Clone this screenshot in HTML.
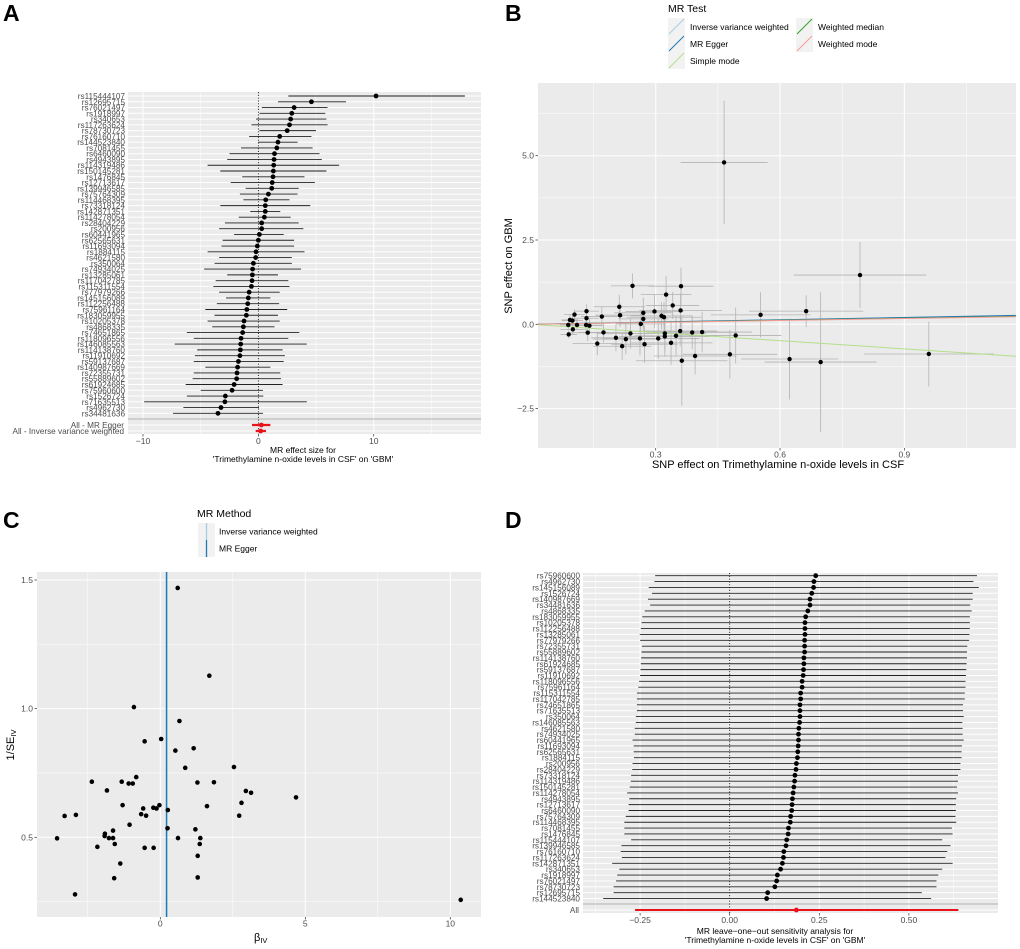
<!DOCTYPE html>
<html><head><meta charset="utf-8"><style>
html,body{margin:0;padding:0;background:#fff}
svg{display:block;font-family:"Liberation Sans",sans-serif}
</style></head><body>
<svg id="fig" xmlns="http://www.w3.org/2000/svg" width="1020" height="949" viewBox="0 0 1020 949">
<text x="3" y="21" font-size="23" font-weight="bold">A</text>
<text x="505" y="21" font-size="23" font-weight="bold">B</text>
<text x="3" y="528" font-size="23" font-weight="bold">C</text>
<text x="505" y="528" font-size="23" font-weight="bold">D</text>
</svg>
<script>
// ---------- Panel A data ----------
const aSnps=["rs115444107","rs12695715","rs76021497","rs1918997","rs340653","rs117263624","rs78730723","rs76160710","rs144523840","rs7081455","rs6460090","rs4943895","rs114319486","rs150145281","rs1476845","rs12713617","rs139946585","rs75764309","rs114468395","rs73318124","rs142871351","rs114278054","rs28404229","rs200956","rs60441965","rs62565631","rs11693094","rs1884115","rs4621580","rs350064","rs74934025","rs13285061","rs117042785","rs115311554","rs77979266","rs145156089","rs112256488","rs75961164","rs183059955","rs10205378","rs4868335","rs74651865","rs118096556","rs146085563","rs114138760","rs11910692","rs59137687","rs140987669","rs72355731","rs55889602","rs61924685","rs75960600","rs1526724","rs71635513","rs4962730","rs34481636"];
const aEst=[10.2,4.6,3.1,2.9,2.8,2.7,2.5,1.85,1.7,1.6,1.4,1.36,1.33,1.3,1.27,1.2,1.16,0.87,0.64,0.6,0.6,0.52,0.29,0.29,0.09,0,-0.09,-0.2,-0.23,-0.43,-0.5,-0.52,-0.55,-0.6,-0.8,-0.87,-0.92,-1.0,-1.04,-1.24,-1.3,-1.36,-1.5,-1.53,-1.56,-1.6,-1.73,-1.8,-1.85,-1.88,-2.1,-2.28,-2.86,-2.9,-3.24,-3.5];
const aLo=[2.6,1.7,0.3,0.1,-0.2,-0.6,0.1,-0.8,0,-1.5,-2.5,-2.7,-4.4,-3.3,-1.4,-2.4,-1.1,-1.6,-1.3,-3.3,-0.7,-1.7,-2.9,-3.4,-2.1,-3.1,-3.2,-4.4,-3.4,-3.8,-4.7,-2.7,-3.7,-3.9,-3.4,-2.8,-3.6,-4.6,-3.8,-4.4,-4.0,-6.2,-5.6,-7.25,-5.3,-5.5,-5.6,-4.6,-5.6,-5.7,-6.3,-5.0,-6.2,-9.9,-6.5,-7.4];
const aHi=[17.9,7.6,6.0,5.8,5.9,6.0,5.0,4.6,3.4,4.7,5.3,5.5,7.0,5.9,4.0,4.9,3.5,3.4,2.7,4.5,1.9,2.8,3.5,3.9,2.2,3.1,3.1,4.0,2.9,2.9,3.7,1.7,2.6,2.7,1.85,1.04,1.8,2.5,1.7,1.85,1.4,3.55,2.6,4.2,2.1,2.3,2.2,1.04,1.9,1.96,2.1,0.4,0.43,4.2,0.06,0.4];
const aSumLabels=["All - MR Egger","All - Inverse variance weighted"];
const aSumEst=[0.26,0.2];
const aSumLo=[-0.55,-0.23];
const aSumHi=[1.04,0.66];
const aTicks=[-10,0,10];
// ---------- Panel B data ----------
const bX=[0.465,0.793,0.959,0.698,0.623,0.663,0.553,0.493,0.479,0.361,0.244,0.325,0.341,0.36,0.297,0.314,0.32,0.27,0.27,0.264,0.212,0.214,0.17,0.133,0.133,0.104,0.093,0.099,0.089,0.11,0.132,0.14,0.09,0.1,0.136,0.174,0.159,0.204,0.219,0.228,0.239,0.262,0.273,0.306,0.322,0.322,0.337,0.349,0.359,0.388,0.412,0.395,0.363];
const bY=[4.8,1.46,-0.88,-1.12,-1.03,0.39,0.28,-0.33,-0.89,1.13,1.14,0.88,0.56,0.41,0.38,0.25,0.21,0.34,0.16,0.01,0.52,0.27,0.23,0.39,0.18,0.29,0.13,0.11,-0.02,-0.02,-0.02,-0.04,-0.3,-0.15,-0.25,-0.24,-0.57,-0.4,-0.65,-0.44,-0.27,-0.42,-0.59,-0.42,-0.27,-0.36,-0.55,-0.34,-0.2,-0.24,-0.23,-0.94,-1.08];
const bXse=[0.105,0.16,0.157,0.135,0.117,0.138,0.12,0.11,0.114,0.078,0.052,0.061,0.064,0.1,0.07,0.075,0.09,0.07,0.06,0.06,0.062,0.06,0.05,0.03,0.03,0.025,0.02,0.025,0.02,0.03,0.04,0.03,0.02,0.03,0.05,0.06,0.06,0.06,0.07,0.08,0.08,0.09,0.08,0.1,0.1,0.11,0.1,0.1,0.09,0.11,0.12,0.1,0.11];
const bYse=[1.83,0.98,0.96,2.07,1.2,0.47,0.67,0.83,0.72,0.55,0.37,0.55,0.4,0.5,0.5,0.4,0.45,0.45,0.4,0.35,0.35,0.35,0.3,0.2,0.2,0.15,0.15,0.15,0.12,0.15,0.2,0.2,0.12,0.15,0.25,0.3,0.35,0.4,0.4,0.45,0.45,0.5,0.55,0.6,0.55,0.6,0.65,0.6,0.45,0.5,0.6,0.55,1.33];
const bMethods=["Inverse variance weighted","MR Egger","Simple mode","Weighted median","Weighted mode"];
const bSlopes=[0.22,0.225,-0.81,0.2,0.19];
const bColors=["#a6cee3","#1f78b4","#b2df8a","#33a02c","#fb9a99"];
const bXTicks=[0.3,0.6,0.9];
const bYTicks=[-2.5,0,2.5,5];
// ---------- Panel C data ----------
const cBeta=[0.6,1.69,-0.91,0.66,0.03,-0.54,0.52,1.15,0.86,2.54,-0.83,-2.36,-1.33,-1.09,-0.95,1.28,1.85,-1.84,2.95,3.13,4.68,2.8,-1.3,-0.03,-0.24,-0.59,-0.13,1.61,0.26,-0.66,-0.49,2.72,-2.91,-3.3,-1.06,0.25,1.21,-1.63,-1.91,-1.92,-1.77,-1.63,-3.56,0.61,1.38,-1.57,1.36,-2.17,-0.54,-0.23,1.29,-1.38,-1.59,1.29,-2.94,10.36];
const cInvSe=[1.469,1.128,1.006,0.952,0.882,0.873,0.837,0.846,0.77,0.773,0.734,0.716,0.716,0.709,0.709,0.713,0.714,0.682,0.68,0.673,0.655,0.634,0.625,0.625,0.615,0.612,0.612,0.621,0.606,0.59,0.584,0.584,0.587,0.583,0.549,0.535,0.531,0.526,0.514,0.505,0.497,0.497,0.496,0.497,0.497,0.474,0.474,0.463,0.459,0.459,0.428,0.398,0.341,0.344,0.278,0.257];
const cMethods=["Inverse variance weighted","MR Egger"];
const cEst=[0.195,0.22];
const cColors=["#a6cee3","#1f78b4"];
const cXTicks=[0,5,10];
const cYTicks=[0.5,1.0,1.5];
// ---------- Panel D data ----------
const dSnps=["rs75960600","rs4962730","rs145156089","rs1526724","rs140987669","rs34481636","rs4868335","rs183059955","rs10205378","rs112256488","rs13285061","rs77979266","rs72355731","rs55889602","rs114138760","rs61924685","rs59137687","rs11910692","rs118096556","rs75961164","rs115311554","rs117042785","rs74651865","rs71635513","rs350064","rs146085563","rs4621580","rs74934025","rs60441965","rs11693094","rs62565631","rs1884115","rs200956","rs28404229","rs73318124","rs114319486","rs150145281","rs114278054","rs4943895","rs12713617","rs6460090","rs75764309","rs114468395","rs7081455","rs1476845","rs115444107","rs139946585","rs76160710","rs117263624","rs142871351","rs340653","rs1918997","rs76021497","rs78730723","rs12695715","rs144523840"];
const dEst=[0.240,0.235,0.234,0.229,0.224,0.224,0.218,0.212,0.210,0.210,0.210,0.209,0.209,0.209,0.207,0.207,0.206,0.205,0.202,0.202,0.198,0.198,0.196,0.196,0.196,0.195,0.193,0.192,0.192,0.191,0.190,0.189,0.186,0.185,0.182,0.181,0.179,0.177,0.175,0.174,0.173,0.170,0.169,0.164,0.163,0.159,0.157,0.151,0.150,0.147,0.142,0.133,0.131,0.126,0.106,0.103];
const dLo=[-0.208,-0.210,-0.226,-0.217,-0.228,-0.222,-0.237,-0.244,-0.246,-0.248,-0.251,-0.250,-0.245,-0.246,-0.247,-0.248,-0.249,-0.250,-0.253,-0.255,-0.259,-0.259,-0.259,-0.259,-0.262,-0.262,-0.265,-0.265,-0.271,-0.268,-0.268,-0.267,-0.271,-0.272,-0.275,-0.276,-0.279,-0.286,-0.280,-0.282,-0.282,-0.290,-0.294,-0.294,-0.294,-0.275,-0.302,-0.304,-0.301,-0.328,-0.308,-0.314,-0.317,-0.324,-0.324,-0.353];
const dHi=[0.690,0.680,0.695,0.678,0.678,0.671,0.675,0.670,0.670,0.670,0.669,0.668,0.663,0.662,0.662,0.661,0.660,0.659,0.658,0.658,0.656,0.656,0.651,0.651,0.653,0.649,0.650,0.650,0.653,0.648,0.647,0.647,0.644,0.644,0.637,0.637,0.634,0.637,0.632,0.631,0.631,0.630,0.632,0.620,0.622,0.593,0.616,0.607,0.602,0.622,0.593,0.582,0.577,0.577,0.536,0.562];
const dAllEst=[0.186];
const dAllLo=[-0.264];
const dAllHi=[0.638];
const dTicks=[-0.25,0,0.25,0.5];
const dTickLabels=["-0.25","0.00","0.25","0.50"];

const NS="http://www.w3.org/2000/svg";
const svg=document.getElementById('fig');
function mk(tag,attrs,parent){const e=document.createElementNS(NS,tag);for(const k in attrs)e.setAttribute(k,attrs[k]);(parent||svg).appendChild(e);return e;}
function lin(d0,d1,r0,r1){return v=>r0+(v-d0)*(r1-r0)/(d1-d0);}
const TXT="#4d4d4d";

// ================= PANEL A =================
(function(){
  const L=128,R=481,T=92,B=434;
  const x=lin(-11.3,19.3,L,R);
  const y0=96,step=5.77;
  const g=mk('g',{});
  
  
  const bg=mk('rect',{x:L,y:T,width:R-L,height:B-T,fill:'#ebebeb'},g);
  
  
  [-5,5,15].forEach(v=>{const l=mk('line',{x1:x(v),x2:x(v),y1:T,y2:B,stroke:'#fff','stroke-width':0.5},g);
    
    });
  aTicks.forEach(v=>{const l=mk('line',{x1:x(v),x2:x(v),y1:T,y2:B,stroke:'#fff','stroke-width':1},g);
    
    });
  aSnps.forEach((s,i)=>{const yy=y0+i*step;
    const gl=mk('line',{x1:L,x2:R,y1:yy,y2:yy,stroke:'#fff','stroke-width':1},g);
    
    });
  const sepY=419;
  const sep=mk('line',{x1:L,x2:R,y1:sepY,y2:sepY,stroke:'#b0b0b0','stroke-width':1},g);
  
  
  const zl=mk('line',{x1:x(0),x2:x(0),y1:T,y2:B,stroke:'#000','stroke-width':0.8,'stroke-dasharray':'1.2,1.6'},g);
  
  
  aSnps.forEach((s,i)=>{const yy=y0+i*step;
    const ci=mk('line',{x1:x(aLo[i]),x2:x(aHi[i]),y1:yy,y2:yy,stroke:'#222','stroke-width':0.9},g);
    
    
    const p=mk('circle',{cx:x(aEst[i]),cy:yy,r:2.4,fill:'#000'},g);
    
    
    const t=mk('text',{x:L-3,y:yy+3,'font-size':8.2,fill:TXT,'text-anchor':'end'},g);t.textContent=s;
    
    });
  const sy=[425,431];
  aSumLabels.forEach((s,i)=>{
    const gl=mk('line',{x1:L,x2:R,y1:sy[i],y2:sy[i],stroke:'#fff','stroke-width':1},g);
    
    
    const ci=mk('line',{x1:x(aSumLo[i]),x2:x(aSumHi[i]),y1:sy[i],y2:sy[i],stroke:'#e8141c','stroke-width':2.2},g);
    
    
    const p=mk('circle',{cx:x(aSumEst[i]),cy:sy[i],r:2.4,fill:'#e8141c'},g);
    
    
    const t=mk('text',{x:L-4,y:sy[i]+3,'font-size':8.2,fill:TXT,'text-anchor':'end'},g);t.textContent=s;
    
    });
  aTicks.forEach(v=>{const tk=mk('line',{x1:x(v),x2:x(v),y1:B,y2:B+2.5,stroke:'#333','stroke-width':0.7},g);
    
    
    const t=mk('text',{x:x(v),y:B+10,'font-size':8.5,fill:TXT,'text-anchor':'middle'},g);t.textContent=(v<0?'\u2212':'')+Math.abs(v);
    
    });
  const t1=mk('text',{x:303,y:453,'font-size':8.5,fill:'#000','text-anchor':'middle'},g);t1.textContent='MR effect size for';
  
  
  const t2=mk('text',{x:303,y:462,'font-size':8.5,fill:'#000','text-anchor':'middle'},g);t2.textContent="'Trimethylamine n-oxide levels in CSF' on 'GBM'";
  
  
})();

// ================= PANEL B =================
(function(){
  const L=538,R=1016,T=83,B=448;
  const x=lin(0,1,531.4,945.8), y=lin(0,5,324.3,155.7);
  const xmin=0.016,xmax=1.169;
  const g=mk('g',{});
  
  
  const bg=mk('rect',{x:L,y:T,width:R-L,height:B-T,fill:'#ebebeb'},g);
  
  
  [0.15,0.45,0.75,1.05].forEach(v=>{const l=mk('line',{x1:x(v),x2:x(v),y1:T,y2:B,stroke:'#fff','stroke-width':0.5},g);
    
    });
  [-1.25,1.25,3.75,6.25].forEach(v=>{const l=mk('line',{x1:L,x2:R,y1:y(v),y2:y(v),stroke:'#fff','stroke-width':0.5},g);
    
    });
  bXTicks.forEach(v=>{const l=mk('line',{x1:x(v),x2:x(v),y1:T,y2:B,stroke:'#fff','stroke-width':1},g);
    
    });
  bYTicks.forEach(v=>{const l=mk('line',{x1:L,x2:R,y1:y(v),y2:y(v),stroke:'#fff','stroke-width':1},g);
    
    });
  bX.forEach((xv,i)=>{
    const h=mk('line',{x1:x(xv-bXse[i]),x2:x(xv+bXse[i]),y1:y(bY[i]),y2:y(bY[i]),stroke:'#b3b3b3','stroke-width':0.8},g);
    
    
    const v=mk('line',{x1:x(xv),x2:x(xv),y1:y(bY[i]-bYse[i]),y2:y(bY[i]+bYse[i]),stroke:'#b3b3b3','stroke-width':0.8},g);
    
    });
  bMethods.forEach((m,i)=>{
    const l=mk('line',{x1:x(xmin),x2:x(xmax),y1:y(bSlopes[i]*xmin),y2:y(bSlopes[i]*xmax),stroke:bColors[i],'stroke-width':1},g);
    
    });
  bX.forEach((xv,i)=>{const p=mk('circle',{cx:x(xv),cy:y(bY[i]),r:2.2,fill:'#000'},g);
    
    });
  bXTicks.forEach(v=>{const tk=mk('line',{x1:x(v),x2:x(v),y1:B,y2:B+2.5,stroke:'#333','stroke-width':0.7},g);
    
    
    const t=mk('text',{x:x(v),y:B+9.5,'font-size':8.5,fill:TXT,'text-anchor':'middle'},g);t.textContent=v.toFixed(1);
    
    });
  bYTicks.forEach(v=>{const tk=mk('line',{x1:L-2.5,x2:L,y1:y(v),y2:y(v),stroke:'#333','stroke-width':0.7},g);
    
    
    const t=mk('text',{x:L-4,y:y(v)+3,'font-size':8.5,fill:TXT,'text-anchor':'end'},g);t.textContent=(v<0?'\u2212':'')+Math.abs(v).toFixed(1);
    
    });
  const xt=mk('text',{x:778,y:468,'font-size':11,fill:'#000','text-anchor':'middle'},g);xt.textContent='SNP effect on Trimethylamine n-oxide levels in CSF';
  
  
  const yt=mk('text',{x:0,y:0,'font-size':11,fill:'#000','text-anchor':'middle',transform:'translate(512,266) rotate(-90)'},g);yt.textContent='SNP effect on GBM';
  
  
  const lt=mk('text',{x:668,y:12,'font-size':10.5,fill:'#000'},g);lt.textContent='MR Test';
  
  
  const pos=[[668,18],[668,35],[668,52],[796,18],[796,35]];
  bMethods.forEach((m,i)=>{const[px,py]=pos[i];
    const k=mk('rect',{x:px,y:py,width:17,height:17,fill:'#f2f2f2'},g);
    
    
    const kl=mk('line',{x1:px+1,y1:py+16,x2:px+16,y2:py+1,stroke:bColors[i],'stroke-width':1},g);
    
    
    const t=mk('text',{x:px+22,y:py+12,'font-size':8.5,fill:'#000'},g);t.textContent=m;
    
    });
})();

// ================= PANEL C =================
(function(){
  const L=37,R=481,T=572,B=917;
  const x=lin(0,5,160.3,305.3), y=lin(0.5,1.5,837.3,580);
  const g=mk('g',{});
  
  
  const bg=mk('rect',{x:L,y:T,width:R-L,height:B-T,fill:'#ebebeb'},g);
  
  
  [-2.5,2.5,7.5].forEach(v=>{const l=mk('line',{x1:x(v),x2:x(v),y1:T,y2:B,stroke:'#fff','stroke-width':0.5},g);
    
    });
  [0.25,0.75,1.25].forEach(v=>{const l=mk('line',{x1:L,x2:R,y1:y(v),y2:y(v),stroke:'#fff','stroke-width':0.5},g);
    
    });
  cXTicks.forEach(v=>{const l=mk('line',{x1:x(v),x2:x(v),y1:T,y2:B,stroke:'#fff','stroke-width':1},g);
    
    });
  cYTicks.forEach(v=>{const l=mk('line',{x1:L,x2:R,y1:y(v),y2:y(v),stroke:'#fff','stroke-width':1},g);
    
    });
  cMethods.forEach((m,i)=>{const l=mk('line',{x1:x(cEst[i]),x2:x(cEst[i]),y1:T,y2:B,stroke:cColors[i],'stroke-width':1.3},g);
    
    });
  cBeta.forEach((b,i)=>{const p=mk('circle',{cx:x(b),cy:y(cInvSe[i]),r:2.3,fill:'#000'},g);
    
    });
  cXTicks.forEach(v=>{const tk=mk('line',{x1:x(v),x2:x(v),y1:B,y2:B+2.5,stroke:'#333','stroke-width':0.7},g);
    
    
    const t=mk('text',{x:x(v),y:B+9.5,'font-size':8.5,fill:TXT,'text-anchor':'middle'},g);t.textContent=v;
    
    });
  cYTicks.forEach(v=>{const tk=mk('line',{x1:L-2.5,x2:L,y1:y(v),y2:y(v),stroke:'#333','stroke-width':0.7},g);
    
    
    const t=mk('text',{x:L-4,y:y(v)+3,'font-size':8.5,fill:TXT,'text-anchor':'end'},g);t.textContent=v.toFixed(1);
    
    });
  const xt=mk('text',{x:254,y:941,'font-size':11,fill:'#000'},g);xt.innerHTML='\u03b2<tspan font-size="7.5" dy="2">IV</tspan>';
  
  
  const yt=mk('text',{x:0,y:0,'font-size':11,fill:'#000','text-anchor':'middle',transform:'translate(14,745) rotate(-90)'},g);yt.innerHTML='1/SE<tspan font-size="7.5" dy="2">IV</tspan>';
  
  
  const lt=mk('text',{x:197,y:517,'font-size':10.5,fill:'#000'},g);lt.textContent='MR Method';
  
  
  cMethods.forEach((m,i)=>{const py=523+i*17;
    const k=mk('rect',{x:198,y:py,width:17,height:17,fill:'#f2f2f2'},g);
    
    
    const kl=mk('line',{x1:206.5,x2:206.5,y1:py,y2:py+17,stroke:cColors[i],'stroke-width':1.3},g);
    
    
    const t=mk('text',{x:219,y:py+11.5,'font-size':8.5,fill:'#000'},g);t.textContent=m;
    
    });
})();

// ================= PANEL D =================
(function(){
  const L=583,R=998,T=573,B=913;
  const x=lin(0,0.25,729.7,819.3);
  const y0=575.7,step=5.87;
  const g=mk('g',{});
  
  
  const bg=mk('rect',{x:L,y:T,width:R-L,height:B-T,fill:'#ebebeb'},g);
  
  
  [-0.375,-0.125,0.125,0.375,0.625].forEach(v=>{const l=mk('line',{x1:x(v),x2:x(v),y1:T,y2:B,stroke:'#fff','stroke-width':0.5},g);
    
    });
  dTicks.forEach(v=>{const l=mk('line',{x1:x(v),x2:x(v),y1:T,y2:B,stroke:'#fff','stroke-width':1},g);
    
    });
  dSnps.forEach((s,i)=>{const yy=y0+i*step;
    const gl=mk('line',{x1:L,x2:R,y1:yy,y2:yy,stroke:'#fff','stroke-width':1},g);
    
    });
  const sep=mk('line',{x1:L,x2:R,y1:904,y2:904,stroke:'#b0b0b0','stroke-width':1},g);
  
  
  const zl=mk('line',{x1:x(0),x2:x(0),y1:T,y2:B,stroke:'#000','stroke-width':0.8,'stroke-dasharray':'1.2,1.6'},g);
  
  
  dSnps.forEach((s,i)=>{const yy=y0+i*step;
    const ci=mk('line',{x1:x(dLo[i]),x2:x(dHi[i]),y1:yy,y2:yy,stroke:'#222','stroke-width':0.9},g);
    
    
    const p=mk('circle',{cx:x(dEst[i]),cy:yy,r:2.4,fill:'#000'},g);
    
    
    const t=mk('text',{x:L-3,y:yy+3,'font-size':8.2,fill:TXT,'text-anchor':'end'},g);t.textContent=s;
    
    });
  const ay=910;
  const agl=mk('line',{x1:L,x2:R,y1:ay,y2:ay,stroke:'#fff','stroke-width':1},g);
  
  
  const aci=mk('line',{x1:x(dAllLo[0]),x2:x(dAllHi[0]),y1:ay,y2:ay,stroke:'#e8141c','stroke-width':2},g);
  
  
  const ap=mk('circle',{cx:x(dAllEst[0]),cy:ay,r:2.4,fill:'#e8141c'},g);
  
  
  const at=mk('text',{x:L-4,y:ay+3,'font-size':8.2,fill:TXT,'text-anchor':'end'},g);at.textContent='All';
  
  
  dTicks.forEach((v,i)=>{const tk=mk('line',{x1:x(v),x2:x(v),y1:B,y2:B+2.5,stroke:'#333','stroke-width':0.7},g);
    
    
    const t=mk('text',{x:x(v),y:B+10,'font-size':8.5,fill:TXT,'text-anchor':'middle'},g);t.textContent=dTickLabels[i].replace('-','\u2212');
    
    });
  const t1=mk('text',{x:775,y:934,'font-size':8.5,fill:'#000','text-anchor':'middle'},g);t1.textContent='MR leave\u2212one\u2212out sensitivity analysis for';
  
  
  const t2=mk('text',{x:775,y:943,'font-size':8.5,fill:'#000','text-anchor':'middle'},g);t2.textContent="'Trimethylamine n-oxide levels in CSF' on 'GBM'";
  
  
})();
</script>
</body></html>
